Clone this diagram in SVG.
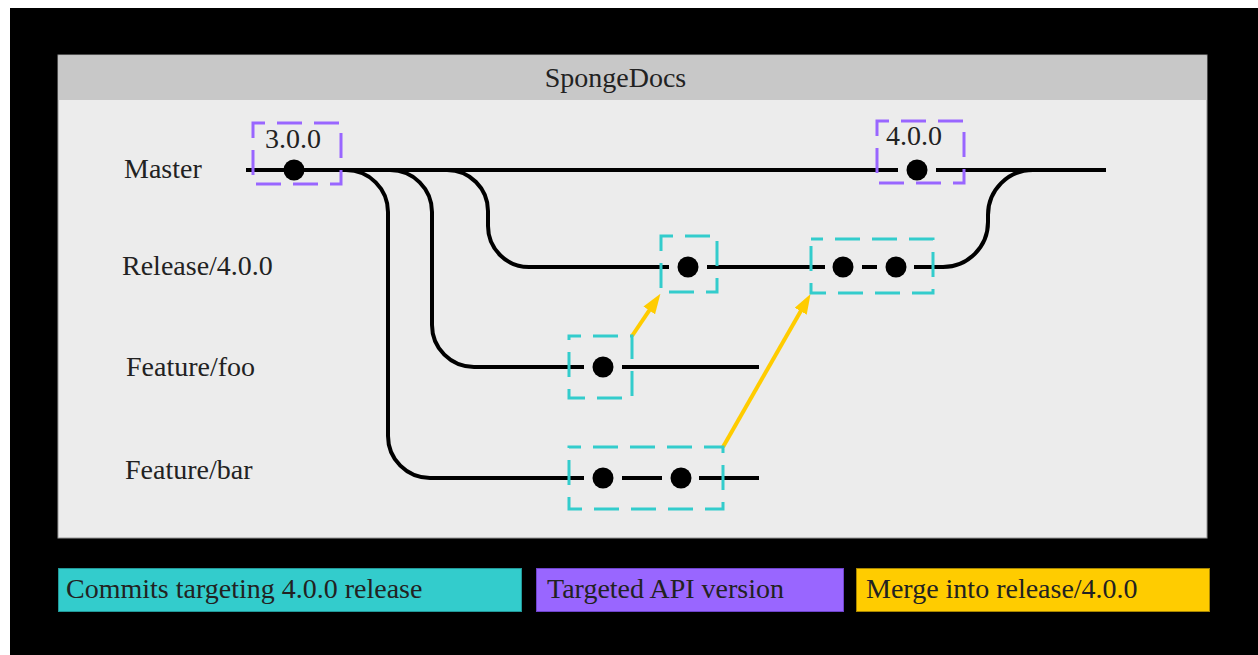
<svg xmlns="http://www.w3.org/2000/svg" width="1258" height="655" viewBox="0 0 1258 655">
<style>
text{font-family:'Liberation Serif','Tinos','Times New Roman','DejaVu Serif',serif;font-size:28px;fill:#222}
.br{fill:none;stroke:#000;stroke-width:4}
.dot{fill:#000}
.cy{fill:none;stroke:#33cccc;stroke-width:3;stroke-dasharray:25 12;stroke-dashoffset:13}
.pu{fill:none;stroke:#9966ff;stroke-width:3;stroke-dasharray:25 12;stroke-dashoffset:13}
.ar{stroke:#ffcc00;stroke-width:4;fill:none;marker-end:url(#ah)}
</style>
<defs>
<marker id="ah" viewBox="0 0 20 14" refX="1" refY="7" markerWidth="20" markerHeight="14" markerUnits="userSpaceOnUse" orient="auto">
<path d="M0,0 L20,7 L0,14 z" fill="#ffcc00"/>
</marker>
</defs>
<rect x="0" y="0" width="1258" height="655" fill="#fff"/>
<rect x="10" y="8" width="1248" height="647" fill="#000"/>
<g id="panel">
<rect x="58" y="55" width="1149" height="483" fill="#ececec" stroke="#999" stroke-width="1"/>
<rect x="58.5" y="55.5" width="1148" height="44.5" fill="#c8c8c8"/>
<text x="615.5" y="87" text-anchor="middle" font-family="Liberation Serif, serif">SpongeDocs</text>
</g>
<g id="labels" font-family="Liberation Serif, serif">
<text x="124" y="178">Master</text>
<text x="122" y="275">Release/4.0.0</text>
<text x="126" y="376">Feature/foo</text>
<text x="125" y="479">Feature/bar</text>
</g>
<g id="connectors">
<path class="br" d="M246 170 L898 170 M936 170 L1106 170"/>
<path class="br" d="M346 170 A42 42 0 0 1 388 212 L388 436 A42 42 0 0 0 430 478 L584 478 M622 478 L662 478 M699 478 L759 478"/>
<path class="br" d="M390 170 A42 42 0 0 1 432 212 L432 325 A42 42 0 0 0 474 367 L584 367 M622 367 L759 367"/>
<path class="br" d="M447 170 A41 41 0 0 1 488 211 L488 226 A41 41 0 0 0 529 267 L669 267 M707 267 L825 267 M862 267 L877 267 M914 267 L943 267 A45 45 0 0 0 988 222 L988 215 A45 45 0 0 1 1033 170"/>
<line class="ar" x1="632" y1="336" x2="649.8" y2="309.6"/>
<line class="ar" x1="723" y1="447" x2="801.1" y2="310.4"/>
</g>
<g id="v300">
<rect class="pu" x="253" y="123" width="88" height="61"/>
<text x="265" y="148">3.0.0</text>
<circle class="dot" cx="294" cy="170" r="10.5"/>
</g>
<g id="v400">
<rect class="pu" x="877" y="121" width="87" height="62"/>
<text x="886" y="145">4.0.0</text>
<circle class="dot" cx="917" cy="170" r="10.5"/>
</g>
<g id="rel1">
<rect class="cy" x="661" y="236" width="56" height="56"/>
<circle class="dot" cx="688" cy="267" r="10.5"/>
</g>
<g id="rel2">
<rect class="cy" x="811" y="239" width="122" height="54"/>
<circle class="dot" cx="843" cy="267" r="10.5"/>
<circle class="dot" cx="896" cy="267" r="10.5"/>
</g>
<g id="foo1">
<rect class="cy" x="569" y="336" width="63" height="62"/>
<circle class="dot" cx="603" cy="367" r="10.5"/>
</g>
<g id="bar1">
<rect class="cy" x="569" y="447" width="154" height="62"/>
<circle class="dot" cx="603" cy="478" r="10.5"/>
<circle class="dot" cx="681" cy="478" r="10.5"/>
</g>
<g id="legend-commits">
<rect x="58.5" y="568.5" width="463" height="43" fill="#33cccc" stroke="#229999" stroke-width="1"/>
<text x="66" y="598">Commits targeting 4.0.0 release</text>
</g>
<g id="legend-api">
<rect x="536.5" y="568.5" width="307" height="43" fill="#9966ff" stroke="#6f44cc" stroke-width="1"/>
<text x="547" y="598">Targeted API version</text>
</g>
<g id="legend-merge">
<rect x="856.5" y="568.5" width="353" height="43" fill="#ffcc00" stroke="#a88600" stroke-width="1"/>
<text x="866" y="598">Merge into release/4.0.0</text>
</g>
</svg>
